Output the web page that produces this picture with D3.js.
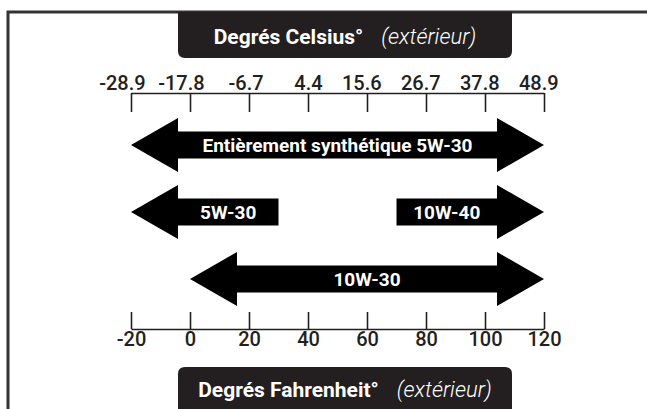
<!DOCTYPE html>
<html>
<head>
<meta charset="utf-8">
<script src="https://cdn.jsdelivr.net/npm/d3@7"></script>
<style>
  body { margin: 0; background: #fff; }
  svg { display: block; font-family: Roboto, "Noto Sans", sans-serif; }
</style>
</head>
<body>
<div id="chart"></div>
<script>
// tick values (fahrenheit) and matching celsius labels
var fTicks = [-20, 0, 20, 40, 60, 80, 100, 120];
var cTicks = ["-28.9", "-17.8", "-6.7", "4.4", "15.6", "26.7", "37.8", "48.9"];

// oil grades and their outdoor temperature ranges (F)
var oilGrades = ["Entièrement synthétique 5W-30", "5W-30", "10W-40", "10W-30"];
var oilRow = [0, 1, 1, 2];
var oilLowF = [-20, -20, 70, 0];
var oilHighF = [120, 30, 120, 120];
var openLow = [true, true, false, true];   // range keeps going below
var openHigh = [true, false, true, true];  // range keeps going above

var svgWidth = 647;
var svgHeight = 409;
var ink = "#231f20";

var svg = d3.select("#chart")
  .append("svg")
  .attr("width", svgWidth)
  .attr("height", svgHeight);

var x = d3.scaleLinear()
  .domain([-20, 120])
  .range([131, 544]);

var y = d3.scalePoint()
  .domain([0, 1, 2])
  .range([145, 279]);

// frame (top + left only)
svg.append("path")
  .attr("d", "M8,409V12H647")
  .attr("fill", "none")
  .attr("stroke", "#333")
  .attr("stroke-width", 3);

// header boxes
var boxL = 178, boxR = 512, r = 7;
svg.append("path")
  .attr("d", `M${boxL},12V${58 - r}Q${boxL},58 ${boxL + r},58H${boxR - r}Q${boxR},58 ${boxR},${58 - r}V12Z`)
  .attr("fill", ink);
svg.append("path")
  .attr("d", `M${boxL},415V${367 + r}Q${boxL},367 ${boxL + r},367H${boxR - r}Q${boxR},367 ${boxR},${367 + r}V415Z`)
  .attr("fill", ink);

function header(label, yy) {
  var t = svg.append("text")
    .attr("x", (boxL + boxR) / 2)
    .attr("y", yy)
    .attr("text-anchor", "middle")
    .attr("fill", "#fff");
  t.append("tspan")
    .attr("font-weight", 700)
    .attr("font-size", 21)
    .text(label);
  t.append("tspan")
    .attr("dx", 18)
    .attr("font-style", "italic")
    .attr("font-weight", 300)
    .attr("font-size", 22)
    .text("(extérieur)");
}
header("Degrés Celsius°", 44);
header("Degrés Fahrenheit°", 397);

// top axis (celsius labels, decimal point on the tick)
var topAxis = svg.append("g")
  .attr("transform", "translate(0,93)")
  .call(d3.axisTop(x)
    .tickValues(fTicks)
    .tickFormat((d, i) => cTicks[i])
    .tickSizeInner(-19)
    .tickSizeOuter(0)
    .tickPadding(3));

// bottom axis (fahrenheit)
var botAxis = svg.append("g")
  .attr("transform", "translate(0,329)")
  .call(d3.axisBottom(x)
    .tickValues(fTicks)
    .tickFormat(d => String(d))
    .tickSizeInner(-17)
    .tickSizeOuter(0)
    .tickPadding(3));

[topAxis, botAxis].forEach(function(g) {
  g.select(".domain").attr("stroke", ink).attr("stroke-width", 1.6);
  g.selectAll(".tick line").attr("stroke", ink).attr("stroke-width", 1.6);
  g.selectAll(".tick text")
    .attr("fill", ink)
    .attr("font-size", 20)
    .attr("font-weight", 500)
    .attr("font-family", "Roboto, sans-serif");
});

topAxis.selectAll(".tick text").each(function() {
  var s = this.textContent;
  var k = s.indexOf(".");
  var off = this.getSubStringLength(0, k) + this.getSubStringLength(k, 1) / 2;
  d3.select(this).attr("text-anchor", "start").attr("x", -off);
});

// arrows
var headLen = 47, headHalf = 27, shaftHalf = 13.5;

function arrowPath(i) {
  var x0 = x(oilLowF[i]), x1 = x(oilHighF[i]), cy = y(oilRow[i]);
  var p = [];
  if (openLow[i]) {
    p.push([x0, cy], [x0 + headLen, cy - headHalf], [x0 + headLen, cy - shaftHalf]);
  } else {
    p.push([x0, cy - shaftHalf]);
  }
  if (openHigh[i]) {
    p.push([x1 - headLen, cy - shaftHalf], [x1 - headLen, cy - headHalf], [x1, cy],
           [x1 - headLen, cy + headHalf], [x1 - headLen, cy + shaftHalf]);
  } else {
    p.push([x1, cy - shaftHalf], [x1, cy + shaftHalf]);
  }
  if (openLow[i]) {
    p.push([x0 + headLen, cy + shaftHalf], [x0 + headLen, cy + headHalf]);
  } else {
    p.push([x0, cy + shaftHalf]);
  }
  return "M" + p.join("L") + "Z";
}

var arrows = svg.selectAll("g.arrow")
  .data(oilGrades)
  .enter().append("g")
  .attr("class", "arrow");

arrows.append("path")
  .attr("d", (d, i) => arrowPath(i))
  .attr("fill", "#000");

arrows.append("text")
  .text(d => d)
  .attr("x", function(d, i) {
    var a = x(oilLowF[i]) + (openLow[i] ? headLen : 0);
    var b = x(oilHighF[i]) - (openHigh[i] ? headLen : 0);
    return (a + b) / 2;
  })
  .attr("y", (d, i) => y(oilRow[i]))
  .attr("dy", "0.36em")
  .attr("text-anchor", "middle")
  .attr("fill", "#fff")
  .attr("font-weight", 700)
  .attr("font-size", 19);
</script>
</body>
</html>
